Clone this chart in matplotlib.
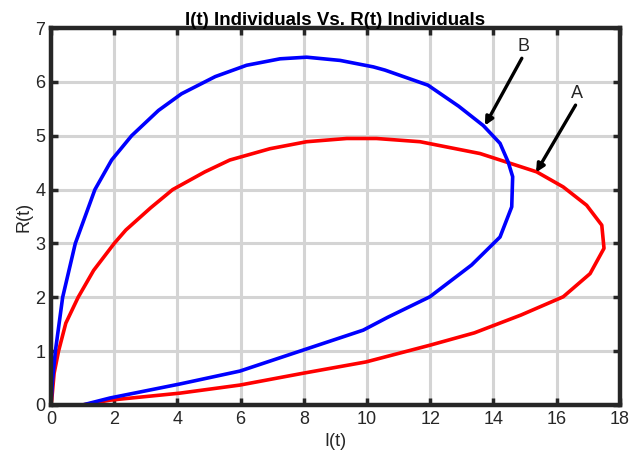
import matplotlib.pyplot as plt

# curve A (red)
i_a = [1.0, 1.87, 4.08, 5.98, 7.98, 9.97, 11.99, 13.4, 14.87, 16.21, 17.06, 17.5, 17.43,
       16.95, 16.21, 15.37, 13.58, 11.68, 10.3, 9.36, 8.09, 6.93, 5.66, 4.87, 3.85,
       3.15, 2.37, 2.0, 1.35, 0.86, 0.47, 0.24, 0.1, 0.03, 0.0]
r_a = [0.0, 0.09, 0.22, 0.37, 0.59, 0.80, 1.11, 1.34, 1.67, 2.01, 2.44, 2.91, 3.34,
       3.71, 4.05, 4.33, 4.67, 4.89, 4.95, 4.95, 4.89, 4.76, 4.55, 4.33, 4.0,
       3.66, 3.25, 3.0, 2.5, 2.0, 1.52, 1.0, 0.59, 0.13, 0.0]

# curve B (blue)
i_b = [1.0, 1.87, 4.08, 5.98, 7.98, 9.88, 10.66, 11.99, 13.31, 14.21, 14.58, 14.61, 14.47,
       14.21, 13.68, 12.9, 11.93, 10.57, 10.2, 9.15, 8.09, 7.25, 6.19, 5.2, 4.13, 3.4,
       2.55, 1.92, 1.39, 0.77, 0.37, 0.14, 0.05, 0.0]
r_b = [0.0, 0.13, 0.39, 0.63, 1.02, 1.39, 1.63, 2.01, 2.60, 3.12, 3.68, 4.24, 4.51,
       4.86, 5.19, 5.55, 5.94, 6.22, 6.28, 6.40, 6.46, 6.43, 6.31, 6.10, 5.78, 5.47,
       5.0, 4.55, 4.0, 3.0, 2.0, 1.0, 0.46, 0.0]

# annotations: label, tip, tail
notes = [("A", (15.35, 4.32), (16.6, 5.57)),
         ("B", (13.73, 5.19), (14.9, 6.44))]

plt.rcParams['font.family'] = ['Liberation Sans', 'DejaVu Sans']

fig = plt.figure(figsize=(6.37, 4.61), dpi=100)
ax = fig.add_axes([0.080, 0.1215, 0.893, 0.8175])

ax.plot(i_a, r_a, color='#ff0000', lw=2.6, solid_joinstyle='round')
ax.plot(i_b, r_b, color='#0000ff', lw=2.6, solid_joinstyle='round')

for label, tip, tail in notes:
    ax.annotate('', xy=tip, xytext=tail,
                arrowprops=dict(arrowstyle='-|>', color='black', lw=2.4,
                                mutation_scale=12, shrinkA=0, shrinkB=0))
    ax.text(tail[0] + 0.05, tail[1] + 0.06, label, ha='center', va='bottom',
            fontsize=13, color='#262626')

ax.set_xlim(0, 18)
ax.set_ylim(0, 7)
ax.set_xticks(range(0, 19, 2))
ax.set_yticks(range(0, 8))
ax.grid(True, color='#d4d4d4', lw=2.2)
ax.set_axisbelow(True)
ax.tick_params(direction='in', length=5, width=2.5, top=True, right=True,
               labelsize=13, colors='#262626', pad=4)
for s in ax.spines.values():
    s.set_linewidth(3.2)
    s.set_color('#262626')

ax.set_title('I(t) Individuals Vs. R(t) Individuals', fontsize=13.5, fontweight='bold', pad=2)
ax.set_xlabel('I(t)', fontsize=13, color='#262626', labelpad=4)
ax.set_ylabel('R(t)', fontsize=13, color='#262626', labelpad=2)

fig.savefig('out.png', dpi=100)
